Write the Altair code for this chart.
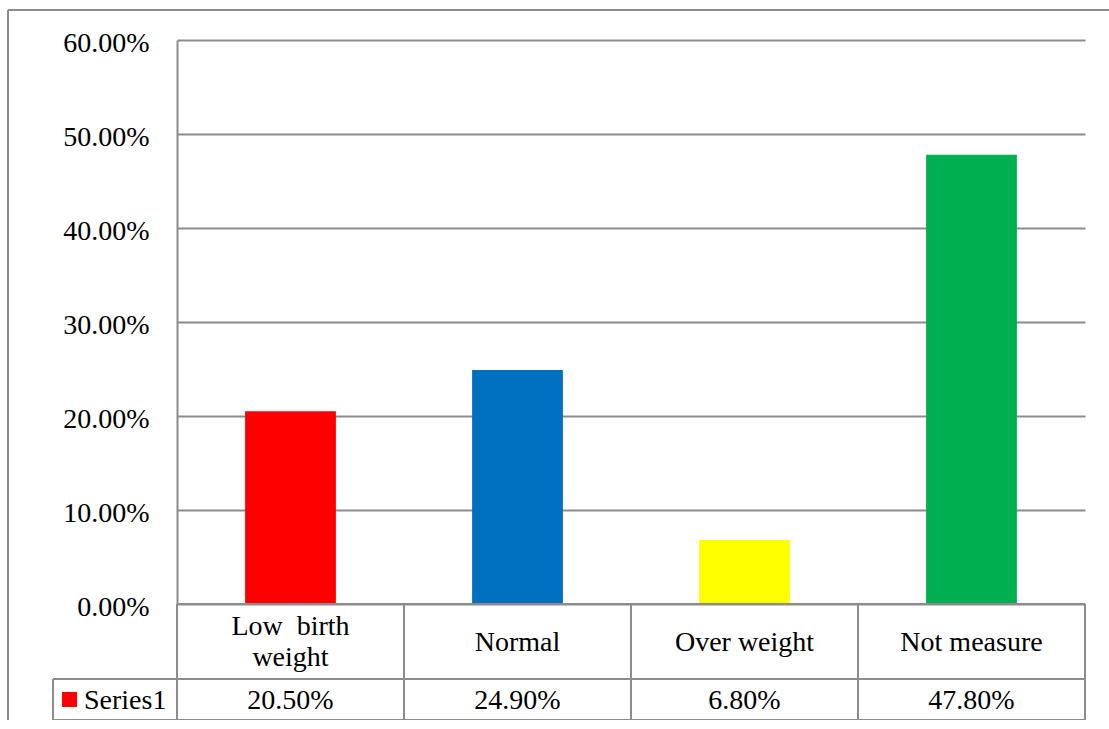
import altair as alt
import pandas as pd

# Birth-weight categories and their shares (percent)
categories = ["Low birth weight", "Normal", "Over weight", "Not measure"]
header_labels = ["Low\u00a0 birth\nweight", "Normal", "Over weight", "Not measure"]
values = [20.50, 24.90, 6.80, 47.80]
bar_colors = ["#FF0000", "#0070C0", "#FFFF00", "#00B050"]
series_name = "Series1"
y_ticks = [0.0, 0.1, 0.2, 0.3, 0.4, 0.5, 0.6]

W, H = 908, 564          # plot area
ROW1, ROW2 = 75, 41      # data-table row heights
LEGEND_W = 124           # width of the series-name cell
FONT = "Liberation Serif, Times New Roman, DejaVu Serif, serif"
FS = 28
LH = 31
LINE = "#8C8C8C"

df = pd.DataFrame({
    "category": categories,
    "header": header_labels,
    "share": [v / 100 for v in values],
    "idx": list(range(len(categories))),
})
df["center"] = df["idx"] + 0.5
df["multiline"] = df["header"].str.contains("\n")
edges = pd.DataFrame({"edge": list(range(len(categories) + 1))})

# Bars
bars = alt.Chart(df).mark_bar().encode(
    x=alt.X("category:N", sort=categories, axis=None,
            scale=alt.Scale(paddingInner=0.6, paddingOuter=0.3)),
    y=alt.Y("share:Q",
            scale=alt.Scale(domain=[0, 0.6], nice=False),
            axis=alt.Axis(values=y_ticks, format=".2%", title=None,
                          grid=True, gridColor=LINE, gridWidth=2,
                          domain=True, domainColor=LINE, domainWidth=2,
                          ticks=False, labelPadding=28, labelFont=FONT,
                          labelFontSize=FS, labelColor="black",
                          labelOffset=3)),
    color=alt.Color("category:N", sort=categories, legend=None,
                    scale=alt.Scale(domain=categories, range=bar_colors)),
)

table_x = alt.Scale(domain=[0, len(categories)], nice=False, zero=False)

# Data table: column separators aligned with the category bands
col_lines = alt.Chart(edges).mark_rule(color=LINE, strokeWidth=2).encode(
    x=alt.X("edge:Q", scale=table_x, axis=None),
    y=alt.value(H),
    y2=alt.value(H + ROW1 + ROW2),
)

# Data table: horizontal lines and the series-name cell
row_line = alt.Chart(df).mark_rule(color=LINE, strokeWidth=2).encode(
    x=alt.value(-LEGEND_W), x2=alt.value(W), y=alt.value(H + ROW1))
bottom_line = alt.Chart(df).mark_rule(color=LINE, strokeWidth=2).encode(
    x=alt.value(-LEGEND_W), x2=alt.value(W), y=alt.value(H + ROW1 + ROW2))
top_line = alt.Chart(df).mark_rule(color=LINE, strokeWidth=2).encode(
    x=alt.value(0), x2=alt.value(W), y=alt.value(H))
legend_left = alt.Chart(df).mark_rule(color=LINE, strokeWidth=2).encode(
    x=alt.value(-LEGEND_W), y=alt.value(H + ROW1), y2=alt.value(H + ROW1 + ROW2))

text_style = dict(font=FONT, fontSize=FS, color="black", align="center",
                  baseline="middle")

# Category names in the table header row (one- and two-line labels)
headers_single = alt.Chart(df).transform_filter(
    "!datum.multiline"
).mark_text(**text_style).encode(
    x=alt.X("center:Q", scale=table_x, axis=None),
    y=alt.value(H + ROW1 / 2 + 1),
    text="header:N",
)
headers_multi = alt.Chart(df).transform_filter(
    "datum.multiline"
).mark_text(lineBreak="\n", lineHeight=LH, **text_style).encode(
    x=alt.X("center:Q", scale=table_x, axis=None),
    y=alt.value(H + ROW1 / 2 + 1 - LH / 2),
    text="header:N",
)

value_text = alt.Chart(df).mark_text(**text_style).encode(
    x=alt.X("center:Q", scale=table_x, axis=None),
    y=alt.value(H + ROW1 + ROW2 / 2 + 1),
    text=alt.Text("share:Q", format=".2%"),
)

legend_df = pd.DataFrame({"series": [series_name]})
legend_key = alt.Chart(legend_df).mark_square(size=225, color=bar_colors[0], opacity=1).encode(
    x=alt.value(-LEGEND_W + 16.5),
    y=alt.value(H + ROW1 + ROW2 / 2),
)
legend_text = alt.Chart(legend_df).mark_text(
    font=FONT, fontSize=FS, color="black", align="left", baseline="middle",
).encode(
    x=alt.value(-LEGEND_W + 31),
    y=alt.value(H + ROW1 + ROW2 / 2 + 1),
    text="series:N",
)

# Outer chart border (left and top edges)
frame_top = alt.Chart(df).mark_rule(color=LINE, strokeWidth=2).encode(
    x=alt.value(-169), x2=alt.value(W + 40), y=alt.value(-30))
frame_left = alt.Chart(df).mark_rule(color=LINE, strokeWidth=2).encode(
    x=alt.value(-169), y=alt.value(-30), y2=alt.value(H + 200))

chart = alt.layer(
    bars, top_line, col_lines, row_line, bottom_line, legend_left,
    headers_single, headers_multi, value_text, legend_key, legend_text,
    frame_top, frame_left,
).resolve_scale(
    x="independent", color="independent"
).properties(
    width=W, height=H,
    autosize=alt.AutoSizeParams(type="none"),
    padding={"left": 177, "top": 40, "right": 24, "bottom": 116},
).configure_view(stroke=None)

chart.save("out.html", embed_options={"renderer": "svg", "actions": False})
